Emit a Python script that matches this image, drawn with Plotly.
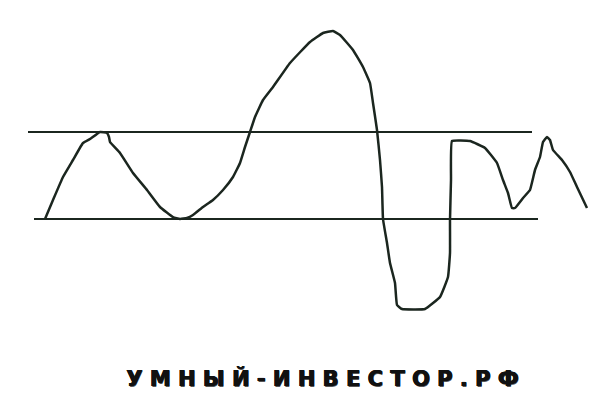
import plotly.graph_objects as go

# curve (x, y in picture units, y grows downward)
curve_x = [45, 53, 63, 73, 83, 90, 100, 107, 109, 110, 120, 133, 147, 160, 173, 180,
           187, 193, 203, 213, 223, 233, 240, 245, 250, 255, 263, 273, 290, 310, 323,
           333, 340, 353, 363, 370, 373, 377, 380, 382, 383, 387, 390, 395, 397, 402,
           425, 440, 448, 450, 450, 451, 452, 470, 485, 497, 503, 508, 512, 515, 523,
           530, 535, 540, 543, 547, 550, 553, 562, 570, 577, 587]
curve_y = [219, 200, 177, 160, 143, 139, 132, 133, 137, 142, 153, 173, 190, 207, 217, 219,
           218, 215, 207, 200, 190, 177, 163, 147, 132, 117, 100, 87, 63, 42, 33,
           31, 35, 50, 67, 83, 103, 130, 160, 187, 219, 243, 263, 283, 305, 309,
           309, 297, 277, 253, 220, 180, 141, 141, 148, 163, 180, 193, 208, 208, 198,
           190, 170, 157, 142, 137, 140, 150, 160, 172, 187, 208]

upper_x = [28, 532]
upper_y = [132, 132]
lower_x = [34, 538]
lower_y = [219, 219]

label = "УМНЫЙ-ИНВЕСТОР.РФ"

ink = "#1b261f"

fig = go.Figure()
fig.add_trace(go.Scatter(x=upper_x, y=upper_y, mode="lines",
                         line=dict(color=ink, width=2), hoverinfo="skip"))
fig.add_trace(go.Scatter(x=lower_x, y=lower_y, mode="lines",
                         line=dict(color=ink, width=2), hoverinfo="skip"))
fig.add_trace(go.Scatter(x=curve_x, y=curve_y, mode="lines",
                         line=dict(color=ink, width=2.5, shape="spline", smoothing=0.3),
                         hoverinfo="skip"))

spaced = " ".join(list(label))

# heavy lettering: draw the label a few times with tiny offsets
for dx, dy, col in [(1.3, 1.3, "#555555"), (0, 0, "#111111"), (0.8, 0, "#111111"),
                    (0, 0.6, "#111111")]:
    fig.add_annotation(x=322 + dx, y=378 + dy, xref="x", yref="y",
                       text="<b>" + spaced + "</b>", showarrow=False,
                       font=dict(family="DejaVu Sans", size=21, color=col))

# the page body has an 8px margin, so shift the ranges to keep picture coordinates
fig.update_layout(
    width=604, height=403,
    margin=dict(l=0, r=0, t=0, b=0),
    paper_bgcolor="white", plot_bgcolor="white",
    showlegend=False,
    xaxis=dict(range=[8, 612], visible=False, fixedrange=True),
    yaxis=dict(range=[411, 8], visible=False, fixedrange=True),
)

fig.write_html("out.html")
